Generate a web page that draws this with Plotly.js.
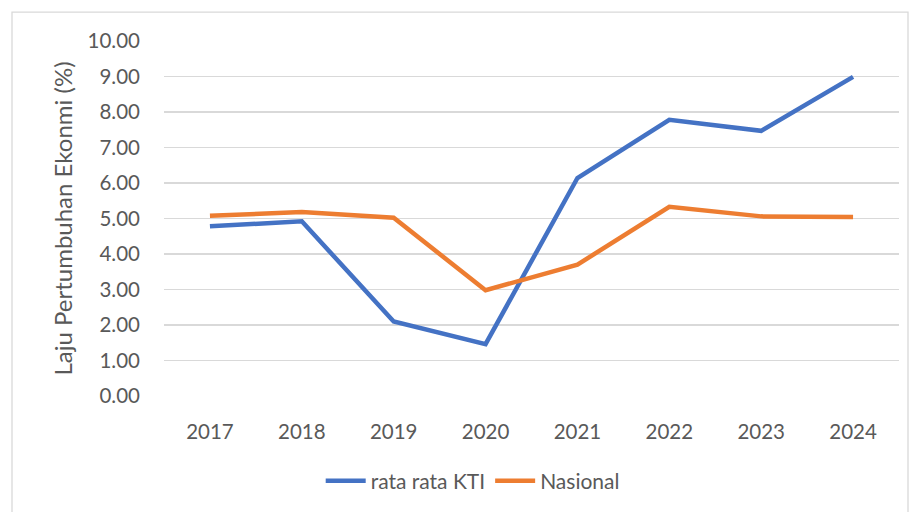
<!DOCTYPE html>
<html>
<head>
<meta charset="utf-8">
<script src="https://cdn.plot.ly/plotly-3.0.1.min.js"></script>
<style>html,body{margin:0;padding:0;background:#fff;}#chart{width:916px;height:512px;}</style>
</head>
<body>
<div id="chart"></div>
<script>
const years = ["2017","2018","2019","2020","2021","2022","2023","2024"];
const ratarataKTI = [4.78, 4.92, 2.10, 1.46, 6.14, 7.78, 7.47, 8.99];
const nasional = [5.08, 5.18, 5.02, 2.98, 3.70, 5.33, 5.06, 5.04];
const yTicks = [0,1,2,3,4,5,6,7,8,9,10];
const yTickText = yTicks.map(v => v.toFixed(2));

const font = "Lato, 'Open Sans', sans-serif";
const traces = [
  {x: years, y: ratarataKTI, type: "scatter", mode: "lines", name: "rata rata KTI",
   line: {color: "#4472C4", width: 4.5}},
  {x: years, y: nasional, type: "scatter", mode: "lines", name: "Nasional",
   line: {color: "#ED7D31", width: 4.5}}
];
const layout = {
  width: 916, height: 512,
  margin: {l: 164, r: 17, t: 41, b: 115},
  paper_bgcolor: "#ffffff", plot_bgcolor: "#ffffff",
  font: {family: font, color: "#595959", size: 20},
  showlegend: true,
  legend: {orientation: "h", x: 0.42, xanchor: "center", y: -0.236, yanchor: "middle",
    font: {size: 21, color: "#595959"}, itemwidth: 40, tracegroupgap: 0},
  xaxis: {type: "category", range: [-0.5, 7.5], showgrid: false, zeroline: false,
    showline: false, ticks: "", ticklabelstandoff: 21, tickfont: {size: 20.5}},
  yaxis: {range: [0, 10], tickvals: yTicks, ticktext: yTickText, showgrid: true,
    gridcolor: "#d9d9d9", gridwidth: 1.3, zeroline: false, showline: false, ticks: "",
    ticklabelstandoff: 23, tickfont: {size: 20.5},
    title: {text: "Laju Pertumbuhan Ekonmi (%)", font: {size: 24, color: "#595959"}, standoff: 8}},
  shapes: [{type: "rect", xref: "paper", yref: "paper",
    x0: (12-164)/735, x1: (908-164)/735, y0: (397-520)/356, y1: (397-12)/356,
    line: {color: "#d9d9d9", width: 1.3}, fillcolor: "rgba(0,0,0,0)", layer: "below"}]
};
Plotly.newPlot("chart", traces, layout, {staticPlot: true, displayModeBar: false});
</script>
</body>
</html>
